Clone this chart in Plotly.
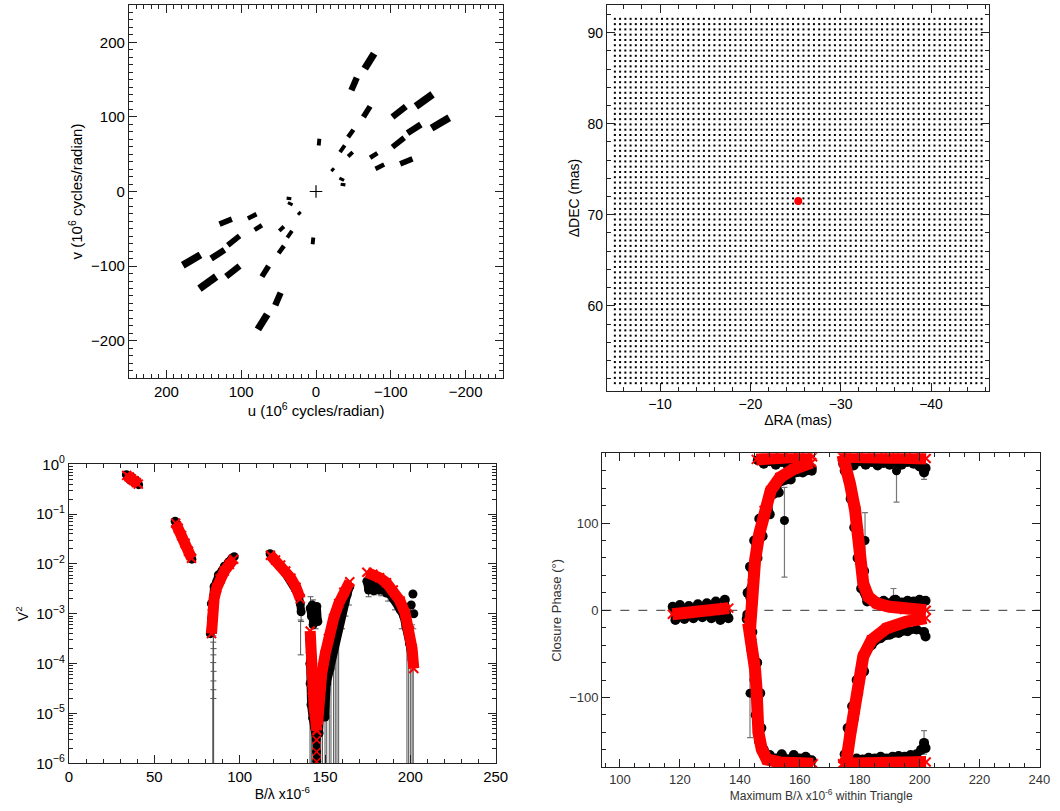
import numpy as np
import plotly.graph_objects as go

W, H = 1060, 811
FONT = "Liberation Sans, Arial, sans-serif"

# ---------------------------------------------------------------- uv coverage
# track end points in 10^6 cycles/radian; every track is also drawn mirrored (-u, -v)
UV_U0 = [-65.2, -47.3, -63.4, -42.9, -32.1, -42.9, -3.6, -20.5, -31.3, -33.0,
         -72.3, -79.5, -102.2, -122.3, -154.5, -102.2, -133.5, -112.5]
UV_V0 = [164.7, 135.6, 99.8, 72.9, 52.8, 47.0, 61.7, 27.3, 17.9, 9.8,
         45.2, 30.4, 59.5, 78.3, 85.0, 99.8, 114.1, 37.1]
UV_U1 = [-77.7, -54.5, -72.3, -50.0, -38.4, -49.1, -4.5, -24.1, -37.5, -39.3,
         -82.1, -91.1, -117.9, -140.2, -178.1, -120.1, -155.8, -129.0]
UV_V1 = [184.8, 152.6, 114.1, 82.8, 61.7, 52.8, 70.7, 31.3, 14.8, 8.9,
         51.5, 36.2, 72.0, 89.9, 98.9, 114.1, 130.2, 43.8]

# ---------------------------------------------------------------- separation search grid (mas)
RA_FIRST, RA_LAST = -5.0, -45.6
DEC_FIRST, DEC_LAST = 51.5, 91.7
GRID_STEP = 0.58
BEST_RA, BEST_DEC = -25.3, 71.5

# ---------------------------------------------------------------- squared visibilities
A1_B_MOD = [33.8, 35.2, 36.6, 38.0, 39.4, 40.6]
A1_V2_MOD = [0.60, 0.56, 0.51, 0.47, 0.43, 0.40]
A1_B_DAT = [33.6, 34.8, 35.6, 37.0, 38.2, 39.6, 40.8]
A1_V2_DAT = [0.62, 0.58, 0.50, 0.53, 0.44, 0.46, 0.39]

A2_B_MOD = [62.5, 64.0, 66.0, 68.0, 70.0, 71.8]
A2_V2_MOD = [0.066, 0.052, 0.037, 0.026, 0.018, 0.013]
A2_B_DAT = [62.2, 63.5, 65.0, 66.5, 68.0, 69.5, 71.0, 72.0]
A2_V2_DAT = [0.072, 0.058, 0.045, 0.034, 0.027, 0.019, 0.016, 0.0125]

A3_B_MOD = [83.5, 84.0, 85.0, 86.5, 88.5, 91.0, 94.0, 96.5]
A3_V2_MOD = [4.0e-4, 1.0e-3, 2.0e-3, 3.3e-3, 5.0e-3, 7.2e-3, 9.8e-3, 1.25e-2]
A3_B_DAT = [82.8, 83.6, 83.4, 84.6, 85.0, 86.6, 87.5, 89.8, 91.0, 93.5, 95.5, 96.8]
A3_V2_DAT = [4e-4, 8e-4, 1.6e-3, 2.2e-3, 3.5e-3, 4.5e-3, 6e-3, 7.5e-3, 9e-3, 1.1e-2, 1.3e-2, 1.4e-2]

A4_B_MOD = [118.0, 121.0, 124.0, 127.0, 130.0, 133.0, 135.5]
A4_V2_MOD = [0.015, 0.012, 0.0095, 0.0072, 0.0052, 0.0034, 0.0020]
A4_B_DAT = [117.8, 119.5, 121.0, 122.5, 124.0, 125.5, 127.0, 128.5, 130.0, 131.5, 133.0, 134.5, 135.5, 136.0]
A4_V2_DAT = [0.016, 0.0125, 0.0115, 0.0098, 0.0090, 0.0075, 0.0068, 0.0056, 0.0048, 0.0038, 0.0030, 0.0024, 0.0016, 0.0011]

A5L_B_MOD = [141.3, 141.5, 141.8, 142.5, 143.6, 144.6, 145.2]
A5L_V2_MOD = [4.5e-4, 2.0e-4, 8.0e-5, 3.0e-5, 1.3e-5, 7.0e-6, 4.5e-6]
A5R_B_MOD = [145.6, 146.5, 148.0, 150.0, 152.0, 155.0, 158.0, 161.0, 164.5]
A5R_V2_MOD = [6e-6, 2e-5, 6e-5, 1.5e-4, 3.2e-4, 8e-4, 1.6e-3, 2.7e-3, 4.4e-3]
A5X_B_MOD = [145.1, 145.1, 145.1, 145.1]
A5X_V2_MOD = [4.7e-6, 2.95e-6, 1.7e-6, 1.07e-6]
A5C_B_DAT = [141.3, 142.0, 142.5, 143.0, 143.5, 144.0, 144.5, 145.2, 145.8]
A5C_V2_DAT = [1.3e-3, 9e-4, 1.5e-3, 6e-4, 1.2e-3, 8e-4, 1.0e-3, 1.4e-3, 7e-4]
A5L_B_DAT = [141.0, 141.1, 141.3, 141.8, 142.8, 144.2, 144.9, 145.0, 145.1]
A5L_V2_DAT = [3e-4, 1e-4, 4e-5, 1.5e-5, 8e-6, 5e-6, 3e-6, 1.7e-6, 1.1e-6]
A5R_B_DAT = [146.5, 147.5, 148.5, 150.0, 151.0, 153.0, 155.0, 157.0, 159.0, 161.0, 163.0, 164.5]
A5R_V2_DAT = [4e-6, 2.5e-5, 1e-5, 8.5e-6, 4e-5, 8e-5, 2e-4, 4.5e-4, 9e-4, 1.6e-3, 2.4e-3, 3.5e-3]

A6_B_MOD = [174.5, 178.0, 182.0, 186.0, 190.0, 194.0, 197.0, 199.5, 201.0, 202.0]
A6_V2_MOD = [0.0068, 0.0062, 0.0053, 0.0042, 0.0030, 0.0018, 0.0010, 4.5e-4, 2.0e-4, 8.0e-5]
A6_B_DAT = [174.5, 175.5, 177.0, 178.5, 180.0, 182.0, 184.0, 186.0, 188.0, 190.0, 192.0,
            194.0, 196.0, 198.0, 199.5, 201.0, 202.0]
A6_V2_DAT = [0.0045, 0.0030, 0.0040, 0.0029, 0.0036, 0.0030, 0.0032, 0.0026, 0.0025, 0.0020, 0.0017,
             0.0012, 9e-4, 5e-4, 2.5e-4, 1.2e-4, 1e-4]
A6E_B_DAT = [200.5, 201.5, 202.0]
A6E_V2_DAT = [1.5e-3, 2.5e-3, 1.0e-3]

# visible V^2 error bars: position, value, lower and upper limit
VE_B = [84.6, 84.6, 84.5, 84.7, 84.6, 84.5, 84.7, 84.6, 84.6, 84.6,
        135.7, 136.0, 141.5, 143.0, 144.5, 141.2, 142.0, 143.2, 144.4, 145.0,
        146.5, 147.5, 148.5, 150.0, 151.0, 152.5, 153.5, 155.0, 156.0, 157.0, 158.0,
        160.0, 162.0, 164.0, 175.5, 179.0, 183.0, 187.0, 191.0, 195.0,
        198.0, 199.0, 200.0, 201.0, 201.7]
VE_V2 = [3e-4, 2.4e-4, 1.8e-4, 1.3e-4, 1e-4, 7e-5, 4.5e-5, 3e-5, 2e-5, 1.3e-5,
         4.5e-4, 1.1e-3, 1.3e-3, 1.2e-3, 1.0e-3, 1e-4, 1.5e-5, 8e-6, 5e-6, 3e-6,
         4e-6, 2.5e-5, 1e-5, 8.5e-6, 4e-5, 6e-5, 8e-5, 2e-4, 3e-4, 4.5e-4, 6e-4,
         1.2e-3, 2.0e-3, 3.0e-3, 3.0e-3, 3.2e-3, 3.1e-3, 2.6e-3, 1.9e-3, 1.0e-3,
         5e-4, 2.5e-4, 3e-4, 1.2e-4, 1e-4]
VE_LO = [1e-8, 1e-8, 1e-8, 1e-8, 1e-8, 1e-8, 1e-8, 1e-8, 1e-8, 1e-8,
         1.5e-4, 7e-4, 8e-4, 7e-4, 5e-4, 1e-8, 1e-8, 1e-8, 1e-8, 1e-8,
         1e-8, 1e-8, 1e-8, 1e-8, 1e-8, 1e-8, 1e-8, 1e-8, 1e-8, 1e-8, 1e-8,
         5e-4, 9e-4, 1.5e-3, 2.2e-3, 2.4e-3, 2.3e-3, 1.8e-3, 1.2e-3, 5e-4,
         1e-8, 1e-8, 1e-8, 1e-8, 1e-8]
VE_HI = [4.5e-4, 3.6e-4, 2.7e-4, 2e-4, 1.5e-4, 1.05e-4, 7e-5, 4.5e-5, 3e-5, 2e-5,
         7.5e-4, 1.6e-3, 2.2e-3, 1.9e-3, 1.6e-3, 3e-4, 6e-5, 3e-5, 2e-5, 1e-5,
         2e-5, 1e-4, 8e-5, 1.5e-4, 2.5e-4, 3e-4, 4e-4, 6e-4, 8e-4, 1.1e-3, 1.3e-3,
         2.2e-3, 3.2e-3, 4.5e-3, 4.5e-3, 4.4e-3, 4.3e-3, 3.8e-3, 2.9e-3, 1.6e-3,
         1.1e-3, 9e-4, 1.5e-3, 6e-4, 5e-4]

# ---------------------------------------------------------------- closure phases (deg)
T1_B_MOD = [117.5, 120.0, 123.0, 126.0, 129.0, 132.0, 135.0, 136.3]
T1_CP_MOD = [-4.5, -4.0, -3.0, -2.0, -1.0, 0.0, 1.5, 2.5]
T1_B_DAT = [117.6, 118.5, 120.0, 121.5, 123.0, 124.5, 126.0, 127.5, 129.0, 130.5, 132.0, 133.5, 135.0, 136.2]
T1_CP_DAT = [4, -11, 6, -10, 5, -9, 7, -8, 8, -9, 10, -11, 12, -9]

T2_B_MOD = [143.4, 143.7, 144.2, 145.1, 146.5, 148.1, 150.3, 153.4, 157.9, 164.0]
T2_CP_MOD = [-22.5, 0.0, 30.8, 57.4, 87.8, 114.4, 137.2, 152.3, 161.9, 169.4]
T2_B_DAT = [142.3, 143.8, 142.6, 144.6, 143.4, 145.9, 144.8, 147.6, 146.5, 150.0, 149.5,
            153.0, 152.5, 157.0, 156.5, 161.0, 164.0]
T2_CP_DAT = [-10, 5, 20, 35, 50, 60, 80, 85, 105, 110, 128, 135, 145, 150, 155, 158, 160]

T3_B_MOD = [145.5, 148.0, 151.0, 154.0, 157.0, 160.0, 164.3]
T3_CP_MOD = [173, 174, 175, 175, 175, 176, 176]
T3_B_DAT = [146.0, 148.0, 150.0, 152.0, 154.0, 156.0, 158.0, 160.0, 162.0, 164.0]
T3_CP_DAT = [172, 168, 171, 167, 170, 166, 169, 165, 167, 163]

T4_B_MOD = [142.8, 144.0, 145.1, 145.6, 145.8, 146.2, 147.3, 149.0, 153.4, 159.0, 164.5]
T4_CP_MOD = [-14.8, -37.6, -68.0, -91.0, -113.7, -140.0, -159.0, -171.0, -174.4, -174.4, -176.0]
T4_B_DAT = [142.5, 144.2, 143.8, 145.8, 144.9, 146.8, 145.3, 147.2, 146.4, 148.0, 150.0,
            152.0, 154.0, 156.0, 158.0, 160.0, 162.0, 164.0]
T4_CP_DAT = [-5, -25, -45, -60, -80, -95, -120, -135, -150, -160, -166, -170, -165, -171, -166, -170, -168, -172]

T5_B_MOD = [174.2, 178.0, 182.0, 186.0, 190.0, 194.0, 198.0, 202.2]
T5_CP_MOD = [176, 175, 175, 175, 175, 175, 175, 174]
T5_B_DAT = [174.5, 176.0, 178.0, 180.0, 182.0, 184.0, 186.0, 188.0, 190.0, 192.0, 194.0,
            196.0, 198.0, 200.0, 201.5, 202.0]
T5_CP_DAT = [168, 172, 166, 171, 167, 170, 166, 169, 167, 170, 167, 170, 168, 165, 158, 163]

T6_B_MOD = [174.3, 175.5, 176.8, 178.5, 179.6, 180.1, 181.2, 182.9, 185.7, 190.0, 195.0, 202.2]
T6_CP_MOD = [178, 165, 144.8, 114.4, 87.8, 57.4, 30.8, 15.5, 7.9, 4.0, 1.0, 0.0]
T6_B_DAT = [175.0, 176.2, 177.0, 178.6, 178.2, 180.3, 179.3, 181.5, 180.5, 182.5, 184.0,
            186.0, 188.0, 190.0, 192.0, 194.0, 196.0, 198.0, 200.0, 202.0]
T6_CP_DAT = [160, 150, 128, 118, 95, 80, 60, 45, 25, 10, 12, 9, 11, 8, 12, 9, 11, 10, 12, 11]

T8_B_MOD = [174.5, 175.7, 176.8, 178.5, 179.6, 181.2, 184.0, 189.0, 195.7, 202.2]
T8_CP_MOD = [-178, -170, -144, -113.7, -83.2, -52.9, -33.9, -20.5, -13, -9]
T8_B_DAT = [175.0, 176.5, 176.0, 178.0, 177.5, 179.5, 179.0, 181.5, 181.0, 184.0, 187.0,
            190.0, 193.0, 196.0, 199.0, 201.5, 202.0]
T8_CP_DAT = [-165, -150, -135, -125, -110, -95, -80, -70, -55, -40, -32, -28, -26, -24, -22, -25, -30]

T9_B_MOD = [174.3, 178.0, 182.0, 186.0, 190.0, 194.0, 198.0, 202.2]
T9_CP_MOD = [-176, -176, -176, -176, -175, -175, -175, -174]
T9_B_DAT = [177.0, 179.0, 181.0, 183.0, 185.0, 187.0, 189.0, 191.0, 193.0, 195.0, 197.0,
            199.0, 200.5, 201.5, 202.0]
T9_CP_DAT = [-172, -170, -171, -169, -170, -168, -170, -168, -167, -168, -166, -165, -160, -152, -158]

# visible closure-phase error bars
CE_B = [154.9, 192.3, 191.3, 143.4, 181.8, 201.5, 201.5]
CE_CP = [103, 160, 12, -95, 80, -152, 160]
CE_LO = [38, 124, 0, -146, 42, -165, 150]
CE_HI = [141, 176, 25, -42, 112, -138, 168]

# ---------------------------------------------------------------- figure
fig = go.Figure()


def add(tr, ax):
    tr.update(xaxis="x" + ax, yaxis="y" + ax, showlegend=False, hoverinfo="skip")
    fig.add_trace(tr)


# uv plane
for u0, v0, u1, v1 in zip(UV_U0, UV_V0, UV_U1, UV_V1):
    r = np.hypot((u0 + u1) / 2, (v0 + v1) / 2)
    w = 2 + r / 35
    for s in (1, -1):
        add(go.Scatter(x=[s * u0, s * u1], y=[s * v0, s * v1], mode="lines",
                       line=dict(color="black", width=w)), "")
add(go.Scatter(x=[0], y=[0], mode="markers",
               marker=dict(symbol="cross-thin", size=9, line=dict(color="black", width=1.2))), "")

# search grid and best-fit position
ra_vals = np.arange(RA_FIRST, RA_LAST - 1e-9, -GRID_STEP)
dec_vals = np.arange(DEC_FIRST, DEC_LAST + 1e-9, GRID_STEP)
gra, gdec = np.meshgrid(ra_vals, dec_vals)
add(go.Scatter(x=gra.ravel(), y=gdec.ravel(), mode="markers",
               marker=dict(symbol="square", size=2, color="black", line=dict(width=0))), "2")
add(go.Scatter(x=[BEST_RA], y=[BEST_DEC], mode="markers",
               marker=dict(size=8, color="red", line=dict(width=0))), "2")

# V^2 panel
add(go.Scatter(x=VE_B, y=VE_V2, mode="markers", marker=dict(size=1, color="#555"),
               error_y=dict(type="data", symmetric=False,
                            array=[h - v for h, v in zip(VE_HI, VE_V2)],
                            arrayminus=[v - l for v, l in zip(VE_V2, VE_LO)],
                            color="#555", thickness=1, width=3)), "3")

v2_data = [(A1_B_DAT, A1_V2_DAT), (A2_B_DAT, A2_V2_DAT), (A3_B_DAT, A3_V2_DAT),
           (A4_B_DAT, A4_V2_DAT), (A5C_B_DAT, A5C_V2_DAT), (A5L_B_DAT, A5L_V2_DAT),
           (A5R_B_DAT, A5R_V2_DAT), (A6_B_DAT, A6_V2_DAT)]
for bx, vy in v2_data:
    add(go.Scatter(x=bx, y=vy, mode="lines+markers", line=dict(color="black", width=8),
                   marker=dict(size=9, color="black")), "3")
add(go.Scatter(x=A6E_B_DAT, y=A6E_V2_DAT, mode="markers", marker=dict(size=9, color="black")), "3")

v2_model = [(A1_B_MOD, A1_V2_MOD), (A2_B_MOD, A2_V2_MOD), (A3_B_MOD, A3_V2_MOD),
            (A4_B_MOD, A4_V2_MOD), (A5L_B_MOD, A5L_V2_MOD), (A5R_B_MOD, A5R_V2_MOD),
            (A6_B_MOD, A6_V2_MOD)]
for bx, vy in v2_model:
    add(go.Scatter(x=bx, y=vy, mode="lines+markers", line=dict(color="red", width=11),
                   marker=dict(symbol="x-thin", size=9, line=dict(color="red", width=2))), "3")
add(go.Scatter(x=A5X_B_MOD, y=A5X_V2_MOD, mode="markers",
               marker=dict(symbol="x-thin", size=8, line=dict(color="red", width=1.5))), "3")

# closure-phase panel
add(go.Scatter(x=CE_B, y=CE_CP, mode="markers", marker=dict(size=9, color="black"),
               error_y=dict(type="data", symmetric=False,
                            array=[h - c for h, c in zip(CE_HI, CE_CP)],
                            arrayminus=[c - l for c, l in zip(CE_CP, CE_LO)],
                            color="#777", thickness=1.2, width=3)), "4")
cp_data = [(T1_B_DAT, T1_CP_DAT), (T2_B_DAT, T2_CP_DAT), (T3_B_DAT, T3_CP_DAT),
           (T4_B_DAT, T4_CP_DAT), (T5_B_DAT, T5_CP_DAT), (T6_B_DAT, T6_CP_DAT),
           (T8_B_DAT, T8_CP_DAT), (T9_B_DAT, T9_CP_DAT)]
for bx, cy in cp_data:
    add(go.Scatter(x=bx, y=cy, mode="lines+markers", line=dict(color="black", width=7),
                   marker=dict(size=10, color="black")), "4")
cp_model = [(T1_B_MOD, T1_CP_MOD), (T2_B_MOD, T2_CP_MOD), (T3_B_MOD, T3_CP_MOD),
            (T4_B_MOD, T4_CP_MOD), (T5_B_MOD, T5_CP_MOD), (T6_B_MOD, T6_CP_MOD),
            (T8_B_MOD, T8_CP_MOD), (T9_B_MOD, T9_CP_MOD)]
for bx, cy in cp_model:
    add(go.Scatter(x=bx, y=cy, mode="lines+markers", line=dict(color="red", width=12),
                   marker=dict(symbol="x-thin", size=9, line=dict(color="red", width=2))), "4")


# ---------------------------------------------------------------- axes
def axis(domain, rng, dtick, minor, title, anchor, tsize=14, fsize=14, color="black", **kw):
    d = dict(domain=domain, range=rng, anchor=anchor, showgrid=False, zeroline=False,
             automargin=False,
             showline=True, linecolor="#222", linewidth=1.3, mirror="allticks",
             ticks="inside", ticklen=8, tickwidth=1, tickcolor="#222",
             tickfont=dict(family=FONT, size=tsize, color=color),
             title=dict(text=title, font=dict(family=FONT, size=fsize, color=color), standoff=4),
             minor=dict(ticks="inside", ticklen=4, tickwidth=1, tickcolor="#222"))
    if dtick is not None:
        d["dtick"] = dtick
    if minor is not None:
        d["minor"]["dtick"] = minor
    d.update(kw)
    return d


def px_x(a, b):
    return [a / W, b / W]


def px_y(top, bottom):
    return [1 - bottom / H, 1 - top / H]


V2_TICKS = [1e-6, 1e-5, 1e-4, 1e-3, 1e-2, 1e-1, 1]
V2_LABELS = ["10<sup>−6</sup>", "10<sup>−5</sup>", "10<sup>−4</sup>", "10<sup>−3</sup>",
             "10<sup>−2</sup>", "10<sup>−1</sup>", "10<sup>0</sup>"]

fig.update_layout(
    width=W, height=H, margin=dict(l=0, r=0, t=0, b=0, autoexpand=False),
    paper_bgcolor="white", plot_bgcolor="white", showlegend=False,
    xaxis=axis(px_x(129, 503), [250, -250], 100, 10,
               "u (10<sup>6</sup> cycles/radian)", "y", tsize=15, fsize=15),
    yaxis=axis(px_y(5, 378), [-250, 250], 100, 10,
               "v (10<sup>6</sup> cycles/radian)", "x", tsize=15, fsize=15),
    xaxis2=axis(px_x(607, 989), [-4.13, -46.42], 10, 2, "ΔRA (mas)", "y2"),
    yaxis2=axis(px_y(5, 391), [50.64, 93.04], 10, 2, "ΔDEC (mas)", "x2"),
    xaxis3=axis(px_x(69, 495.7), [0, 250], 50, 10, "B/λ x10<sup>-6</sup>", "y3", tsize=15),
    yaxis3=axis(px_y(464.3, 763.3), [-6, 0], None, None, "V<sup>2</sup>", "x3", tsize=15,
                type="log", tickmode="array", tickvals=V2_TICKS, ticktext=V2_LABELS),
    xaxis4=axis(px_x(602.3, 1040), [94.1, 240.2], 20, 5,
                "Maximum B/λ x10<sup>-6</sup> within Triangle", "y4", tsize=13, fsize=12, color="#333"),
    yaxis4=axis(px_y(453.3, 767.3), [-180, 180], 100, 20, "Closure Phase (°)", "x4",
                tsize=13, fsize=13, color="#333"),
)
fig.layout.yaxis3.minor = dict(ticks="inside", ticklen=4, tickwidth=1, tickcolor="#222", dtick="D1")

# zero closure-phase reference, behind the data
fig.add_shape(type="line", xref="x4 domain", yref="y4", x0=0, x1=1, y0=0, y1=0, layer="below",
              line=dict(color="#333", width=1, dash="dash"))

fig.write_html("out.html")
